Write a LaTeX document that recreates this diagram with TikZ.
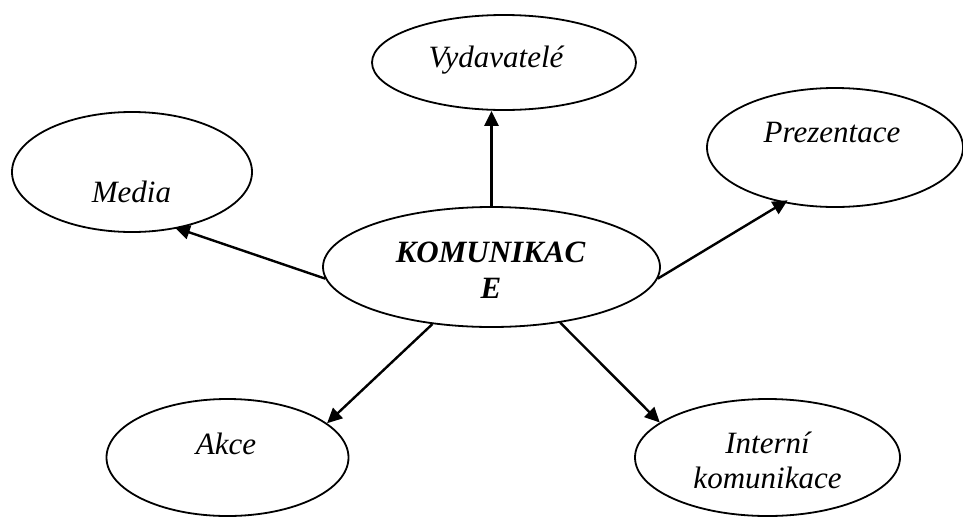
\documentclass[tikz,border=0pt]{standalone}
\usepackage{fontspec}
\setmainfont{Liberation Serif}
\usetikzlibrary{shapes.geometric,arrows.meta}
\begin{document}
\begin{tikzpicture}[x=1pt,y=-1pt,
  bub/.style={draw,ellipse,line width=1.8pt,inner sep=0pt},
  lab/.style={anchor=base,inner sep=0pt,font=\fontsize{31}{36}\selectfont\itshape},
  blab/.style={lab,font=\fontsize{31}{36}\selectfont\bfseries\itshape},
  conn/.style={line width=2.4pt,-{Triangle[length=15pt,width=14pt]}}]
\useasboundingbox (0,0) rectangle (963,517);
% ellipses
\node[bub,minimum width=264pt,minimum height=95pt] (vyd) at (504,62.5) {};
\node[bub,minimum width=240pt,minimum height=120pt] (media) at (132,172) {};
\node[bub,minimum width=256pt,minimum height=119pt] (prez) at (835,147.5) {};
\node[bub,minimum width=337pt,minimum height=120pt] (k) at (491.5,267) {};
\node[bub,minimum width=242pt,minimum height=117pt] (akce) at (227.5,457.5) {};
\node[bub,minimum width=265pt,minimum height=117pt] (int) at (767.5,457.5) {};
% texts
\node[lab] (vydT) at (496,67) {Vydavatelé};
\node[lab] (mediaT) at (131.5,202) {Media};
\node[lab] (prezT) at (832,142) {Prezentace};
\node[blab] (kT1) at (490.5,262) {KOMUNIKAC};
\node[blab] (kT2) at (491,298) {E};
\node[lab] (akceT) at (226,454) {Akce};
\node[lab] (intT1) at (767.5,453) {Interní};
\node[lab] (intT2) at (767.5,488) {komunikace};
% connectors
\draw[conn] (k.north) -- (k.north |- vyd.south);
\draw[conn,shorten >=-3pt] (k.184) -- (media.-51);
\draw[conn,shorten >=-5pt] (k.-4) -- (prez.-133);
\draw[conn] (k.224) -- (akce.19);
\draw[conn] (k.-39) -- (int.162);
\end{tikzpicture}
\end{document}
